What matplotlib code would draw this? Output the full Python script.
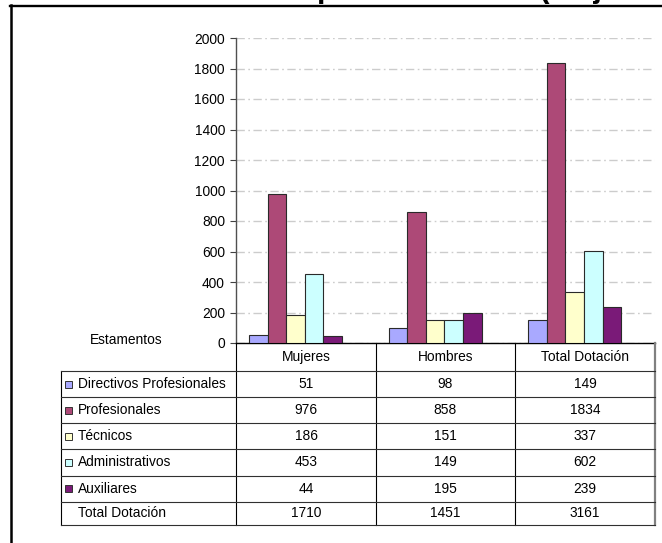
import matplotlib
matplotlib.use("Agg")
import matplotlib.pyplot as plt
from matplotlib.lines import Line2D
from matplotlib.patches import Rectangle

plt.rcParams['font.family'] = ['Liberation Sans', 'DejaVu Sans']

# ---- data ----
categories = ["Mujeres", "Hombres", "Total Dotación"]
series_names = ["Directivos Profesionales", "Profesionales", "Técnicos",
                "Administrativos", "Auxiliares"]
directivos = [51, 98, 149]
profesionales = [976, 858, 1834]
tecnicos = [186, 151, 337]
administrativos = [453, 149, 602]
auxiliares = [44, 195, 239]
total_dotacion = [1710, 1451, 3161]
total_label = "Total Dotación"
yticks = [0, 200, 400, 600, 800, 1000, 1200, 1400, 1600, 1800, 2000]
title = "Dotación por Estamento (Mujeres y Hombres)"
row_header = "Estamentos"

series_values = [directivos, profesionales, tecnicos, administrativos, auxiliares]
colors = ['#A9A9FF', '#AD4977', '#FFFFCC', '#CCFFFF', '#7A1A78']

W, H = 662, 543
fig = plt.figure(figsize=(W / 100, H / 100), dpi=100)

def fx(x):
    return x / W

def fy(y):
    return 1 - y / H

FS = 9.9

# axes placement (pixels)
ax_l, ax_r, ax_t, ax_b = 236, 655, 38, 343
ax = fig.add_axes([fx(ax_l), fy(ax_b), (ax_r - ax_l) / W, (ax_b - ax_t) / H])

bar_w = 0.133
offset = 0.093
for j, (vals, col) in enumerate(zip(series_values, colors)):
    xs = [i + offset + j * bar_w for i in range(len(categories))]
    ax.bar(xs, vals, width=bar_w, align='edge', color=col,
           edgecolor='#2a2a2a', linewidth=0.8, zorder=3)

ax.set_xlim(0, 3)
ax.set_ylim(0, 2000)
ax.set_yticks(yticks)
ax.set_yticklabels([str(t) for t in yticks], fontsize=FS)
ax.set_xticks([])
ax.tick_params(axis='y', length=4, width=0.8, pad=4, color='#404040')
ax.yaxis.grid(True, color='#CCCCCC', linewidth=1.0, linestyle=(0, (6, 2.5, 1.2, 2.5)), zorder=0)
ax.set_axisbelow(True)
for s in ['top', 'right']:
    ax.spines[s].set_visible(False)
ax.spines['left'].set_color('#505050')
ax.spines['left'].set_linewidth(1.0)
ax.spines['bottom'].set_color('black')
ax.spines['bottom'].set_linewidth(1.0)
ax.patch.set_alpha(0)

# ---- data table ----
def hline(x0, x1, y, color='black', lw=0.8):
    fig.add_artist(Line2D([fx(x0), fx(x1)], [fy(y), fy(y)], color=color, lw=lw,
                          transform=fig.transFigure))

def vline(x, y0, y1, color='black', lw=0.8):
    fig.add_artist(Line2D([fx(x), fx(x)], [fy(y0), fy(y1)], color=color, lw=lw,
                          transform=fig.transFigure))

col_edges = [236, 376, 515, 655]
row_edges = [343, 371, 397.3, 423.3, 449.3, 475.7, 501.7, 525]
tbl_left = 61

vline(236, 343, 525)
vline(376, 343, 525)
vline(515, 343, 525)
vline(655, 343, 525, color='#808080', lw=1.6)
vline(tbl_left, 371, 525)
for y in row_edges[1:]:
    hline(tbl_left, 655, y, color='#303030')

for i, cat in enumerate(categories):
    xc = (col_edges[i] + col_edges[i + 1]) / 2
    yc = (row_edges[0] + row_edges[1]) / 2
    fig.text(fx(xc), fy(yc), cat, ha='center', va='center', fontsize=FS)

fig.text(fx(126), fy(340), row_header, ha='center', va='center', fontsize=FS)

rows = list(zip(series_names, series_values, colors)) + [(total_label, total_dotacion, None)]
for r, (name, vals, col) in enumerate(rows):
    yc = (row_edges[r + 1] + row_edges[r + 2]) / 2
    if col is not None:
        fig.add_artist(Rectangle((fx(65), fy(yc + 3.5)), 7 / W, 7 / H, facecolor=col,
                                 edgecolor='#333333', lw=0.7, transform=fig.transFigure))
    fig.text(fx(78), fy(yc), name, ha='left', va='center', fontsize=FS)
    for i, v in enumerate(vals):
        xc = (col_edges[i] + col_edges[i + 1]) / 2
        fig.text(fx(xc), fy(yc), str(v), ha='center', va='center', fontsize=FS)

# outer border (extends beyond the image)
fig.add_artist(Line2D([fx(10), fx(W + 5)], [fy(6), fy(6)], color='black', lw=1.7,
                      transform=fig.transFigure))
fig.add_artist(Line2D([fx(11.3), fx(11.3)], [fy(5), fy(H + 5)], color='black', lw=1.8,
                      transform=fig.transFigure))

# title (mostly above the visible area; only descenders show)
fig.text(fx(178), 1 + 3.5 / H, title, ha='left', va='baseline', fontsize=22,
         fontweight='bold')

fig.savefig("out.png", dpi=100)
